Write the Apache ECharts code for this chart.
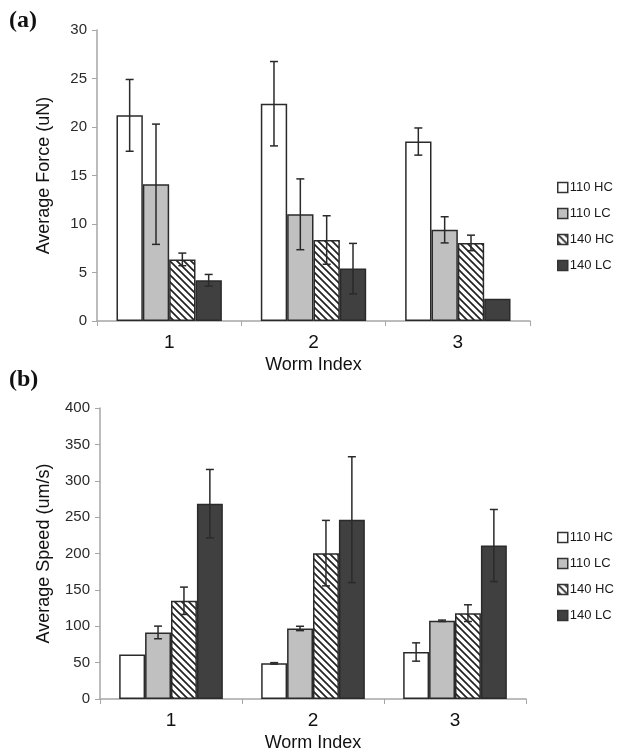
<!DOCTYPE html>
<html>
<head>
<meta charset="utf-8">
<script src="https://cdn.jsdelivr.net/npm/echarts@6/dist/echarts.min.js"></script>
<style>
html,body{margin:0;padding:0;background:#fff;}
#chart{width:619px;height:754px;}
</style>
</head>
<body>
<div id="chart"></div>
<script>
// ---- data ----
var categories = ['1', '2', '3'];
var seriesNames = ['110 HC', '110 LC', '140 HC', '140 LC'];
var forceTicks = [0, 5, 10, 15, 20, 25, 30];
var speedTicks = [0, 50, 100, 150, 200, 250, 300, 350, 400];

var force110HC = [21.2, 22.4, 18.5];
var force110LC = [14.1, 11.0, 9.4];
var force140HC = [6.35, 8.35, 8.05];
var force140LC = [4.2, 5.4, 2.3];
var force110HCErr = [3.7, 4.35, 1.4];
var force110LCErr = [6.2, 3.65, 1.35];
var force140HCErr = [0.65, 2.5, 0.8];
var force140LCErr = [0.6, 2.6, 0];

var speed110HC = [61, 49, 64.6];
var speed110LC = [91.5, 97, 107.5];
var speed140HC = [135, 200.5, 118];
var speed140LC = [268.5, 246.5, 211];
var speed110HCErr = [0, 1, 12.6];
var speed110LCErr = [8.7, 3, 1];
var speed140HCErr = [18.8, 45, 11.5];
var speed140LCErr = [47, 86.5, 49.5];

// ---- styling ----
function makeHatch() {
  var s = 7;
  var c = document.createElement('canvas');
  c.width = s; c.height = s;
  var ctx = c.getContext('2d');
  ctx.fillStyle = '#ffffff';
  ctx.fillRect(0, 0, s, s);
  ctx.strokeStyle = '#222222';
  ctx.lineWidth = 1.7;
  ctx.beginPath();
  ctx.moveTo(-1, -1); ctx.lineTo(s + 1, s + 1);
  ctx.moveTo(-s / 2 - 1, s / 2 - 1); ctx.lineTo(s / 2 + 1, 3 * s / 2 + 1);
  ctx.moveTo(s / 2 - 1, -s / 2 - 1); ctx.lineTo(3 * s / 2 + 1, s / 2 + 1);
  ctx.stroke();
  return c;
}
var fills = ['#ffffff', '#c0c0c0', { image: makeHatch(), repeat: 'repeat' }, '#404040'];
var CAT_GAP = 0.27;

var forceVals = [force110HC, force110LC, force140HC, force140LC];
var forceErrs = [force110HCErr, force110LCErr, force140HCErr, force140LCErr];
var speedVals = [speed110HC, speed110LC, speed140HC, speed140LC];
var speedErrs = [speed110HCErr, speed110LCErr, speed140HCErr, speed140LCErr];

var series = [];
function addGroup(vals, errs, gi) {
  for (var k = 0; k < 4; k++) {
    series.push({
      type: 'bar', name: seriesNames[k], xAxisIndex: gi, yAxisIndex: gi,
      data: vals[k], barGap: '0%', barCategoryGap: (CAT_GAP * 100) + '%',
      itemStyle: { color: fills[k], borderColor: '#2a2a2a', borderWidth: 1.5 },
      emphasis: { disabled: true }, animation: false
    });
  }
  for (var k2 = 0; k2 < 4; k2++) {
    (function (k) {
      var d = vals[k].map(function (v, i) { return [i, v, errs[k][i]]; });
      series.push({
        type: 'custom', xAxisIndex: gi, yAxisIndex: gi, z: 10, animation: false,
        data: d,
        renderItem: function (params, api) {
          var cat = api.value(0), v = api.value(1), e = api.value(2);
          if (!e) return null;
          var c = api.coord([cat, v]);
          var band = api.size([1, 0])[0];
          var bw = band * (1 - CAT_GAP) / 4;
          var x = c[0] + (k - 1.5) * bw;
          var yt = api.coord([cat, v + e])[1];
          var yb = api.coord([cat, v - e])[1];
          var st = { stroke: '#2a2a2a', lineWidth: 1.5 };
          return {
            type: 'group', children: [
              { type: 'line', shape: { x1: x, y1: yt, x2: x, y2: yb }, style: st },
              { type: 'line', shape: { x1: x - 4, y1: yt, x2: x + 4, y2: yt }, style: st },
              { type: 'line', shape: { x1: x - 4, y1: yb, x2: x + 4, y2: yb }, style: st }
            ]
          };
        }
      });
    })(k2);
  }
}
addGroup(forceVals, forceErrs, 0);
addGroup(speedVals, speedErrs, 1);

var FONT = 'Liberation Sans, Arial, sans-serif';
function xAx(gi) {
  return {
    type: 'category', gridIndex: gi, data: categories,
    axisLine: { lineStyle: { color: '#a6a6a6', width: 1.5 } },
    axisTick: { show: true, length: 5, lineStyle: { color: '#a6a6a6' } },
    axisLabel: { fontSize: 19, color: '#111', margin: 12, fontFamily: FONT },
    name: 'Worm Index', nameLocation: 'middle', nameGap: 35,
    nameTextStyle: { fontSize: 18, color: '#111', fontFamily: FONT }
  };
}
function yAx(gi, ticks, name, gap) {
  return {
    type: 'value', gridIndex: gi, min: ticks[0], max: ticks[ticks.length - 1],
    interval: ticks[1] - ticks[0],
    axisLine: { show: true, lineStyle: { color: '#a6a6a6', width: 1.5 } },
    axisTick: { show: true, length: 5, lineStyle: { color: '#a6a6a6' } },
    splitLine: { show: false },
    axisLabel: { fontSize: 15, color: '#2a2a2a', margin: 10, fontFamily: FONT },
    name: name, nameLocation: 'middle', nameRotate: 90, nameGap: gap,
    nameTextStyle: { fontSize: 18, color: '#111', fontFamily: FONT }
  };
}
function leg(top) {
  return {
    data: seriesNames, orient: 'vertical', left: 552, top: top,
    itemWidth: 10, itemHeight: 10, itemGap: 13, icon: 'rect',
    selectedMode: false,
    itemStyle: { borderColor: '#333', borderWidth: 1.5 },
    textStyle: { fontSize: 13, color: '#1a1a1a', fontFamily: FONT, padding: [0, 0, 0, -3] }
  };
}

var chart = echarts.init(document.getElementById('chart'), null, { renderer: 'canvas' });
chart.setOption({
  animation: false,
  backgroundColor: '#ffffff',
  grid: [
    { left: 97, top: 30, width: 433, height: 291 },
    { left: 100, top: 408, width: 426, height: 291 }
  ],
  xAxis: [xAx(0), xAx(1)],
  yAxis: [yAx(0, forceTicks, 'Average Force (uN)', 44), yAx(1, speedTicks, 'Average Speed (um/s)', 47)],
  legend: [leg(176), leg(526)],
  series: series,
  graphic: [
    { type: 'text', left: 9, top: 9, style: { text: '(a)', font: 'bold 24px "Liberation Serif", serif', fill: '#111' } },
    { type: 'text', left: 9, top: 368, style: { text: '(b)', font: 'bold 24px "Liberation Serif", serif', fill: '#111' } }
  ]
});
</script>
</body>
</html>
